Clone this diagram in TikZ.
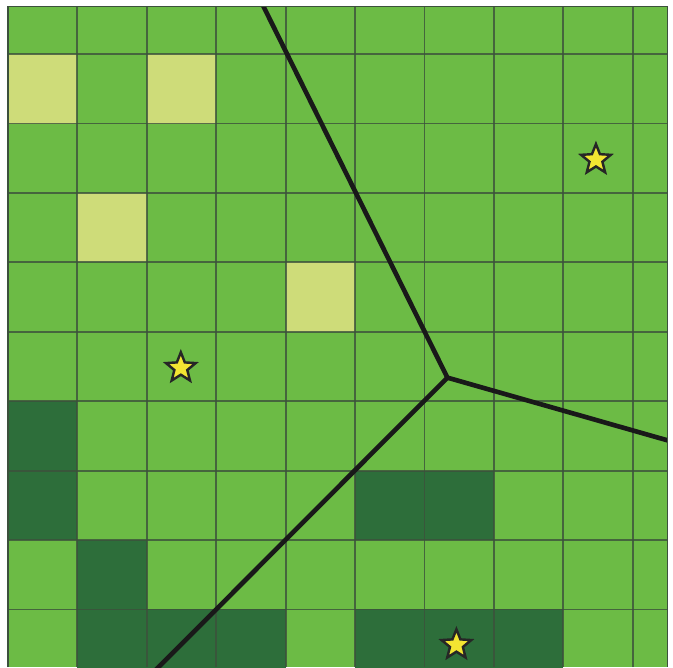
\documentclass[tikz,border=0pt]{standalone}
\usetikzlibrary{shapes.geometric}
\definecolor{meadow}{RGB}{108,187,69}
\definecolor{pale}{RGB}{206,220,121}
\definecolor{forest}{RGB}{45,110,58}
\definecolor{gridline}{RGB}{60,80,60}
\definecolor{gold}{RGB}{243,229,50}
\tikzset{
  cell/.style={fill=#1},
  cell/.default=meadow,
  boundary/.style={black!90,line width=1.9pt,line cap=round},
  site/.style={star,star points=5,star point ratio=2.3,minimum size=4.5mm,
    inner sep=0pt,draw=black!85,fill=gold,line width=1pt},
}
\begin{document}
\begin{tikzpicture}
    \useasboundingbox[fill=white] (-0.115,-8.83) rectangle (9.58,0.78);
    % field
    \begin{scope}
      \clip (0,-8.83) rectangle (9.5,0.69);
      \fill[cell] (0,-8.83) rectangle (9.5,0.69);
      \foreach \c/\r in {0/0,2/0,1/2,4/3}{ \fill[cell=pale] (\c,-\r) rectangle ++(1,-1); }
      \foreach \c/\r in {0/5,0/6,1/7,1/8,2/8,3/8,5/6,6/6,5/8,6/8,7/8}{ \fill[cell=forest] (\c,-\r) rectangle ++(1,-1); }
      \foreach \x in {1,...,9}{ \draw[gridline,line width=0.75pt,opacity=0.8] (\x,-8.83) -- (\x,0.69); }
      \foreach \y in {0,...,8}{ \draw[gridline,line width=0.75pt,opacity=0.8] (0,-\y) -- (9.5,-\y); }
      % regions
      \coordinate (junction) at (6.33,-4.66);
      \coordinate (top end) at (3.6,0.85);
      \coordinate (right end) at (9.7,-5.62);
      \coordinate (bottom end) at (2.0,-9.0);
      \draw[boundary] (top end) -- (junction) -- (right end);
      \draw[boundary] (junction) -- (bottom end);
    \end{scope}
    \draw[gridline,line width=0.6pt] (0,-8.83) -- (0,0.69) -- (9.5,0.69) -- (9.5,-8.83);
    % sites
    \node[site] (site a) at (8.47,-1.52) {};
    \node[site] (site b) at (2.49,-4.52) {};
    \node[site] (site c) at (6.46,-8.51) {};
  \end{tikzpicture}
\end{document}
